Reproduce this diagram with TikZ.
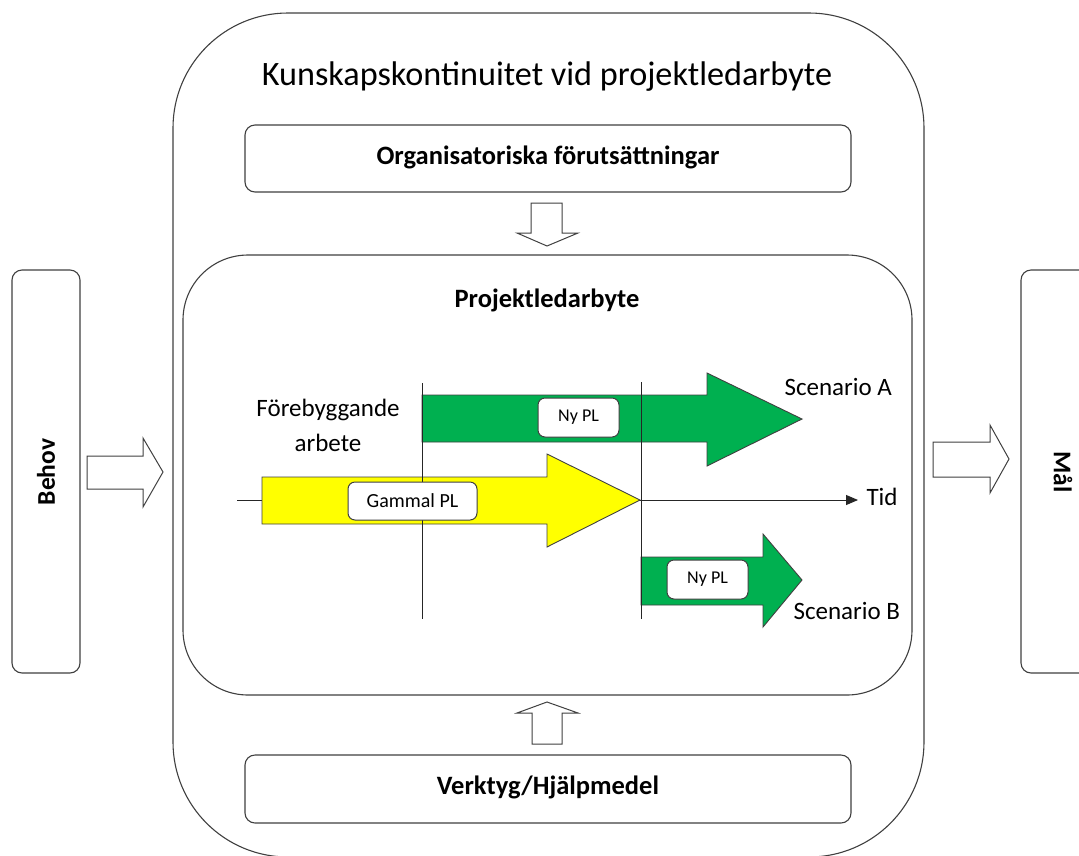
\documentclass[tikz,border=0pt]{standalone}
\usepackage{fontspec}
\setmainfont{Carlito}
\usetikzlibrary{arrows.meta}
\definecolor{plgreen}{HTML}{00B050}
\definecolor{plyellow}{HTML}{FFFF00}
\definecolor{edge}{HTML}{404040}
\begin{document}
\begin{tikzpicture}[x=1pt,y=-1pt,
  frame/.style={draw=edge, line width=1.1pt, fill=white, inner sep=0pt},
  panel/.style={frame, rounded corners=10pt},
  tag/.style={draw=edge, line width=1pt, fill=white, rounded corners=7pt, inner sep=0pt},
  hollow/.style={draw=edge, line width=1pt, fill=white, line join=miter},
  band/.style={draw=edge, line width=0.9pt, line join=miter},
  marker/.style={draw=black!85, line width=1pt},
  headfont/.style={font=\fontsize{34.2}{40}\selectfont},
  boldfont/.style={font=\fontsize{26.5}{32}\selectfont\bfseries},
  sidefont/.style={font=\fontsize{25.5}{30}\selectfont\bfseries},
  plainfont/.style={font=\fontsize{25}{35}\selectfont},
  smallfont/.style={font=\fontsize{18}{22}\selectfont},
  midfont/.style={font=\fontsize{20}{24}\selectfont}]
\useasboundingbox (0,0) rectangle (1079,855);

% outer frame and inner panels
\node[frame, rounded corners=115pt, minimum width=751pt, minimum height=844pt] (outer) at (548.5,435) {};
\node[headfont] (title) at (547,77) {Kunskapskontinuitet vid projektledarbyte};
\node[panel, minimum width=606pt, minimum height=67pt] (org) at (548,158.5) {};
\node[boldfont] (orgtext) at (548,157) {Organisatoriska förutsättningar};
\node[frame, rounded corners=65pt, minimum width=729pt, minimum height=440pt] (inner) at (547.5,475) {};
\node[boldfont] (pltitle) at (547,300) {Projektledarbyte};
\node[panel, minimum width=606pt, minimum height=68pt] (tools) at (548,789) {};
\node[boldfont] (toolstext) at (548,787) {Verktyg/Hjälpmedel};

% side boxes
\node[panel, minimum width=68pt, minimum height=403pt] (behov) at (46,471.5) {};
\node[sidefont, rotate=90] (behovtext) at (46,472) {Behov};
\node[panel, minimum width=84pt, minimum height=403pt] (mal) at (1063,471.5) {};
\node[sidefont, rotate=-90] (maltext) at (1063,472) {Mål};

% hollow block arrows
\draw[hollow] (531,203) -- (562,203) -- (562,233) -- (578,233) -- (547,246) -- (517,233) -- (531,233) -- cycle;
\draw[hollow] (532,744) -- (562,744) -- (562,713) -- (578,713) -- (547,702) -- (517,713) -- (532,713) -- cycle;
\draw[hollow] (87,456) -- (143,456) -- (143,438) -- (163,472) -- (143,507) -- (143,489) -- (87,489) -- cycle;
\draw[hollow] (933,442) -- (990,442) -- (990,425) -- (1009,459) -- (990,493) -- (990,477) -- (933,477) -- cycle;

% time axis
\coordinate (t0) at (237,500);
\coordinate (t1) at (858,500);
\draw[marker, -{Triangle[length=12pt,width=10pt]}] (t0) -- (t1);
\node[plainfont, anchor=west] (tid) at (863,497) {Tid};

% phase bands
\draw[band, fill=plgreen] (422,395) -- (707,395) -- (707,373) -- (802,419) -- (707,466) -- (707,442) -- (422,442) -- cycle;
\draw[band, fill=plyellow] (262,477) -- (547,477) -- (547,454) -- (640,500) -- (547,547) -- (547,524) -- (262,524) -- cycle;
\draw[band, fill=plgreen] (641,557) -- (763,557) -- (763,534) -- (802,580) -- (763,627) -- (763,605) -- (641,605) -- cycle;

% phase boundaries
\coordinate (v1top) at (422,383);
\coordinate (v1bot) at (422,619);
\coordinate (v2top) at (641,382);
\coordinate (v2bot) at (641,619);
\draw[marker] (v1top) -- (v1bot);
\draw[marker] (v2top) -- (v2bot);

% labels
\node[tag, minimum width=81pt, minimum height=39pt, smallfont] (nyA) at (578.5,417.5) {Ny PL};
\node[tag, minimum width=129pt, minimum height=38pt, midfont] (old) at (412.5,501) {Gammal PL};
\node[tag, minimum width=81pt, minimum height=39pt, smallfont] (nyB) at (707.5,579.5) {Ny PL};
\node[plainfont, anchor=west] (scA) at (781,387) {Scenario A};
\node[plainfont, anchor=west] (scB) at (790,611) {Scenario B};
\node[plainfont, align=center] (prev) at (328,425) {Förebyggande\\arbete};
\end{tikzpicture}
\end{document}
